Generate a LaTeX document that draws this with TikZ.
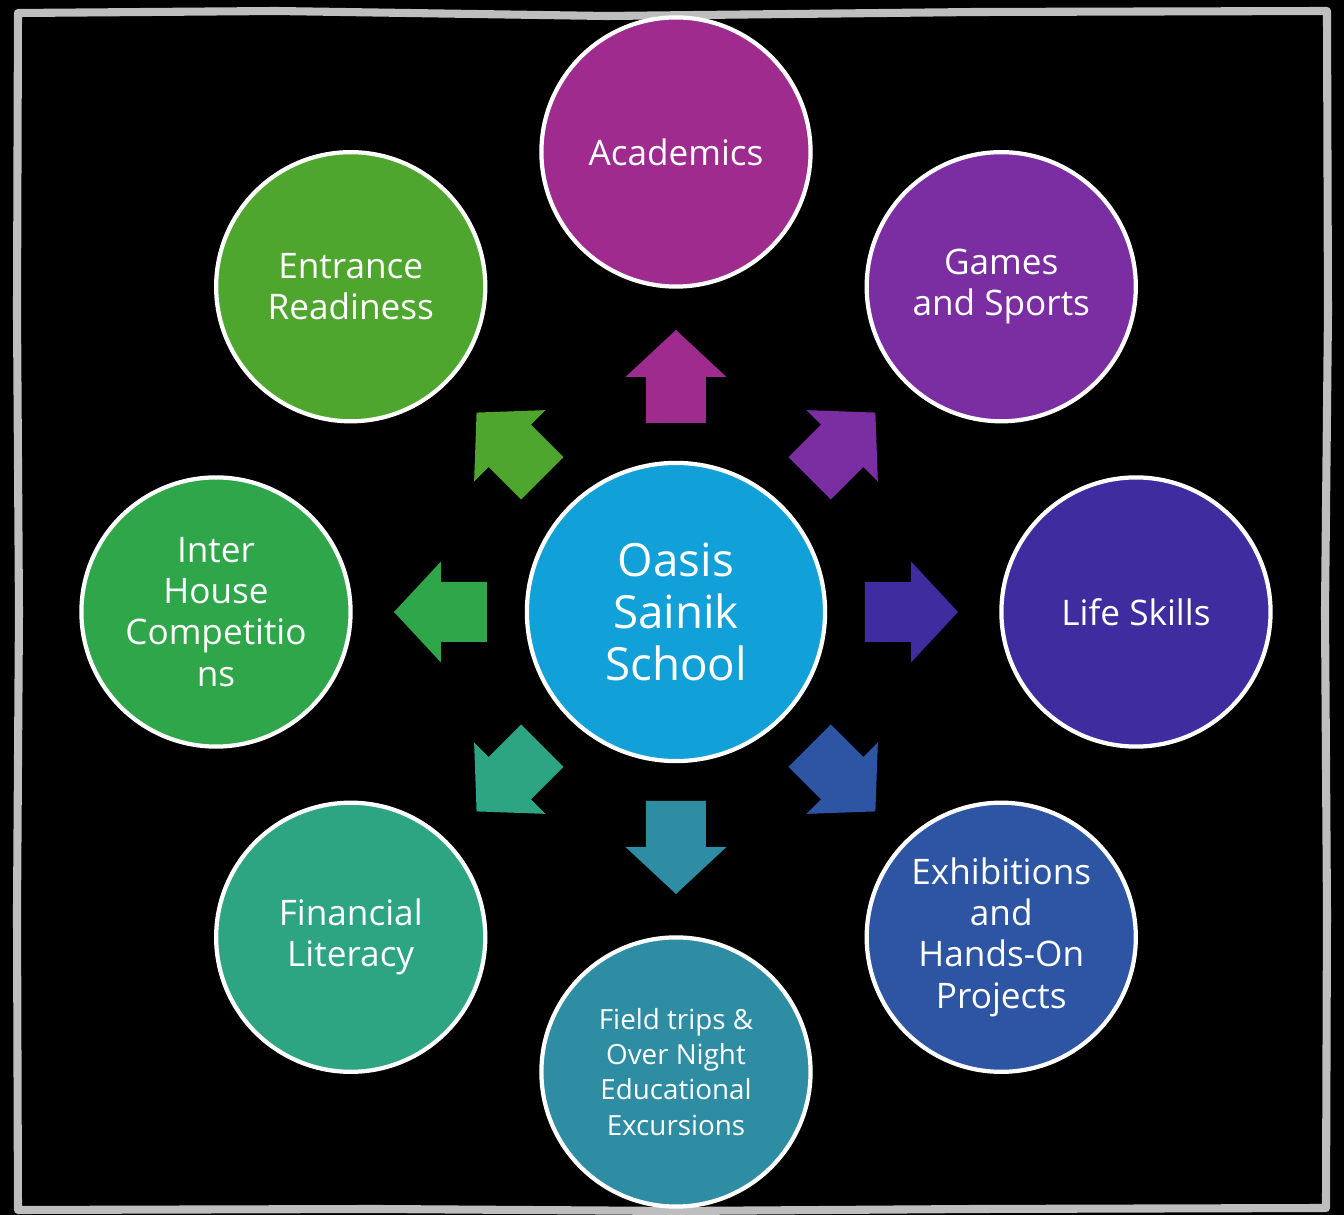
\documentclass[tikz,border=0pt]{standalone}
\usepackage{fontspec}
\setmainfont{Open Sans}

\definecolor{hubblue}{HTML}{11A0D8}
\definecolor{acadcol}{HTML}{9F2B8F}
\definecolor{gamescol}{HTML}{7A2EA1}
\definecolor{lifecol}{HTML}{3F2DA0}
\definecolor{exhibcol}{HTML}{2E55A3}
\definecolor{fieldcol}{HTML}{2E8CA3}
\definecolor{financecol}{HTML}{2EA582}
\definecolor{housecol}{HTML}{2FA64A}
\definecolor{entrancecol}{HTML}{4FA62F}
\definecolor{framegray}{HTML}{BEBEBE}

\tikzset{
	hub/.style = {circle, draw = white, line width = 1.2pt, fill = hubblue, minimum size = 2.98cm, inner sep = 0pt, text = white, align = center, font = \fontsize{13}{14.8}\selectfont},
	topic/.style = {circle, draw = white, line width = 1.2pt, minimum size = 2.69cm, inner sep = 0pt, text = white, align = center},
	bigtext/.style = {font = \fontsize{10}{11.7}\selectfont},
	smalltext/.style = {font = \fontsize{7.9}{10}\selectfont},
	frame/.style = {draw = framegray, line width = 2.3pt, line join = round}
}

\begin{document}
\begin{tikzpicture}[x = 0.01cm, y = 0.01cm]

	% Definition
	
	\def\D{460}		% Distance of topic circles
	\def\Ra{189}	% Arrow tail radius
	\def\Rb{235}	% Arrow head base radius
	\def\Rc{282}	% Arrow tip radius
	
	% Background
	
	\fill [black] (-676, -603) rectangle (668, 612);
	\useasboundingbox (-676, -603) rectangle (668, 612);
	
	% Hand drawn frame
	
	\draw [frame] (-658, 599) -- (-400, 601) -- (-70, 596) -- (300, 600) -- (651, 601)
		-- (652, 300) -- (649, 0) -- (651, -300) -- (650, -596)
		-- (300, -597) -- (0, -599) -- (-300, -597) -- (-658, -598)
		-- (-659, -300) -- (-657, 0) -- (-659, 300) -- cycle;
	
	% Hub
	
	\node [hub] (school) at (0, 0) {Oasis\\Sainik\\School};
	
	% Topic circles + block arrows
	
	\foreach \name/\Q/\col/\sty/\txt in {
		academics/90/acadcol/bigtext/Academics,
		games/45/gamescol/bigtext/Games\\and Sports,
		lifeskills/0/lifecol/bigtext/Life Skills,
		exhibitions/-45/exhibcol/bigtext/Exhibitions\\and\\Hands-On\\Projects,
		fieldtrips/-90/fieldcol/smalltext/Field trips \&\\Over Night\\Educational\\Excursions,
		financial/-135/financecol/bigtext/Financial\\Literacy,
		interhouse/180/housecol/bigtext/Inter\\House\\Competitio\\ns,
		entrance/135/entrancecol/bigtext/Entrance\\Readiness}
	{
	
		% Topic circle
		
		\node [topic, \sty, fill = \col] (\name) at (\Q : \D) {\txt};
		
		% Block arrow
		
		\begin{scope} [rotate = \Q]
			\fill [\col] (\Ra, -30) -- (\Rb, -30) -- (\Rb, -50.5) -- (\Rc, 0)
				-- (\Rb, 50.5) -- (\Rb, 30) -- (\Ra, 30) -- cycle;
		\end{scope}
	}

\end{tikzpicture}
\end{document}
